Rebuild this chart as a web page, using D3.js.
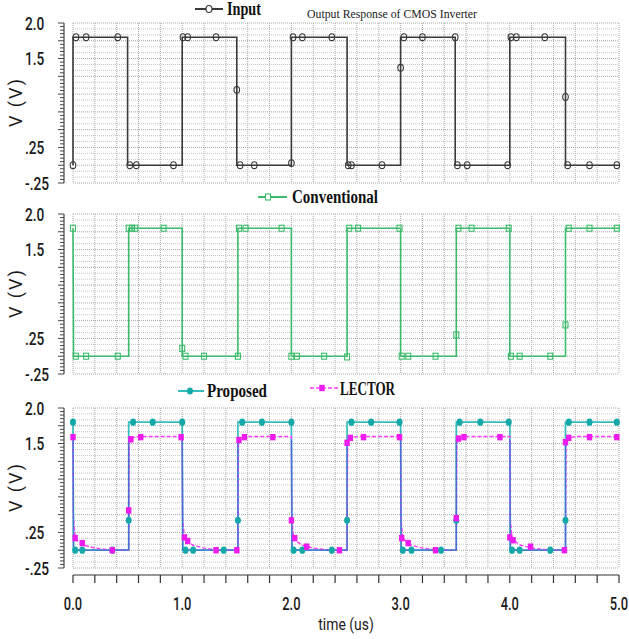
<!DOCTYPE html>
<html>
<head>
<meta charset="utf-8">
<script src="https://cdn.jsdelivr.net/npm/d3@7"></script>
<style>
  body { margin: 0; background: #fff; }
  svg { display: block; }
</style>
</head>
<body>
<div id="canvas"></div>
<script>
"use strict"

/* ---------- data (time in us, voltage in V) ---------- */
let xTickValues = [0, 1, 2, 3, 4, 5];
let xTickLabels = ["0.0", "1.0", "2.0", "3.0", "4.0", "5.0"];
let yTickValues = [2.0, 1.5, 0.25, -0.25];
let yTickLabels = ["2.0", "1.5", ".25", "-.25"];

let inputLine = [[0,0],[0,1.8],[0.5,1.8],[0.5,0],[1.0,0],[1.0,1.8],[1.5,1.8],[1.5,0],
  [2.0,0],[2.0,1.8],[2.51,1.8],[2.51,0],[3.0,0],[3.0,1.8],[3.5,1.8],[3.5,0],
  [4.0,0],[4.0,1.8],[4.51,1.8],[4.51,0],[5.0,0]];
let inputMarks = [[0,0],[0.027,1.8],[0.12,1.8],[0.41,1.8],[0.52,0],[0.58,0],[0.92,0],
  [1.007,1.8],[1.05,1.8],[1.31,1.8],[1.5,1.06],[1.53,0],[1.66,0],[2.0,0.03],
  [2.015,1.8],[2.1,1.8],[2.37,1.8],[2.52,0],[2.55,0],[2.83,0],[3.0,1.37],
  [3.03,1.8],[3.2,1.8],[3.5,1.8],[3.52,0],[3.61,0],[3.98,0],[4.01,1.8],
  [4.06,1.8],[4.32,1.8],[4.51,0.96],[4.53,0],[4.73,0],[4.98,0]];

let convLine = [[0,1.8],[0.005,0],[0.51,0],[0.51,1.8],[1.0,1.8],[1.0,0],[1.51,0],[1.51,1.8],
  [2.0,1.8],[2.0,0],[2.51,0],[2.51,1.8],[3.0,1.8],[3.0,0],[3.51,0],[3.51,1.8],
  [4.0,1.8],[4.0,0],[4.51,0],[4.51,1.8],[5.0,1.8]];
let convMarks = [[0,1.8],[0.025,0],[0.12,0],[0.41,0],[0.51,1.8],[0.54,1.8],[0.57,1.8],
  [0.83,1.8],[1.0,0.11],[1.03,0],[1.2,0],[1.51,0],[1.52,1.8],[1.58,1.8],[1.91,1.8],
  [2.0,0],[2.05,0],[2.3,0],[2.51,-0.01],[2.53,1.8],[2.61,1.8],[2.99,1.8],[3.01,0],
  [3.07,0],[3.32,0],[3.51,0.3],[3.53,1.8],[3.65,1.8],[3.99,1.8],[4.01,0],[4.09,0],
  [4.37,0],[4.51,0.44],[4.54,1.8],[4.73,1.8],[4.98,1.8]];

let propLine = [[0,1.8],[0.005,0],[0.51,0],[0.51,1.8],[1.0,1.8],[1.005,0],[1.51,0],[1.51,1.8],
  [2.0,1.8],[2.005,0],[2.51,0],[2.51,1.8],[3.0,1.8],[3.005,0],[3.51,0],[3.51,1.8],
  [4.0,1.8],[4.005,0],[4.51,0],[4.51,1.8],[5.0,1.8]];
let propMarks = [[0,1.8],[0.02,0],[0.085,0],[0.36,0],[0.51,0.42],[0.55,1.8],[0.73,1.8],
  [1.0,1.8],[1.03,0],[1.1,0],[1.38,0],[1.51,0.42],[1.55,1.8],[1.73,1.8],[2.0,1.8],
  [2.02,0],[2.1,0],[2.37,0],[2.51,0.42],[2.55,1.8],[2.73,1.8],[2.99,1.8],[3.02,0],
  [3.1,0],[3.37,0],[3.51,0.42],[3.54,1.8],[3.73,1.8],[3.99,1.8],[4.02,0],[4.09,0],
  [4.37,0],[4.51,0.42],[4.54,1.8],[4.73,1.8],[4.98,1.8]];

let lectorLine = [[0,1.6],[0.003,0.45],[0.02,0.18],[0.05,0.12],[0.1,0.07],[0.2,0.03],[0.3,0.01],[0.4,0],
  [0.51,0],[0.515,1.5],[0.54,1.58],[0.6,1.6],
  [1.0,1.6],[1.003,0.45],[1.02,0.18],[1.05,0.12],[1.1,0.07],[1.2,0.03],[1.3,0.01],[1.4,0],
  [1.51,0],[1.515,1.5],[1.54,1.58],[1.6,1.6],
  [2.0,1.6],[2.003,0.45],[2.02,0.18],[2.05,0.12],[2.1,0.07],[2.2,0.03],[2.3,0.01],[2.4,0],
  [2.51,0],[2.515,1.5],[2.54,1.58],[2.6,1.6],
  [3.0,1.6],[3.003,0.45],[3.02,0.18],[3.05,0.12],[3.1,0.07],[3.2,0.03],[3.3,0.01],[3.4,0],
  [3.51,0],[3.515,1.5],[3.54,1.58],[3.6,1.6],
  [4.0,1.6],[4.003,0.45],[4.02,0.18],[4.05,0.12],[4.1,0.07],[4.2,0.03],[4.3,0.01],[4.4,0],
  [4.51,0],[4.515,1.5],[4.54,1.58],[4.6,1.6],[5.0,1.6]];
let lectorMarks = [[0,1.59],[0.02,0.17],[0.085,0.1],[0.36,0],[0.51,0.56],[0.53,1.56],
  [0.62,1.59],[0.99,1.59],[1.02,0.18],[1.05,0.13],[1.31,0],[1.5,0],[1.52,1.55],
  [1.57,1.59],[1.83,1.59],[2.0,0.42],[2.03,0.17],[2.14,0.05],[2.44,0],[2.51,1.51],
  [2.54,1.58],[2.66,1.59],[2.99,1.59],[3.01,0.17],[3.07,0.1],[3.32,0],[3.51,0.45],
  [3.53,1.57],[3.58,1.59],[3.91,1.59],[4.0,0.18],[4.03,0.14],[4.19,0.05],[4.5,0],
  [4.51,1.52],[4.54,1.58],[4.73,1.59],[4.98,1.59]];

/* ---------- canvas ---------- */
let drawing = d3.select("#canvas")
  .append("svg")
  .attr("width", 629)
  .attr("height", 639);

let plotLeft = 73, plotRight = 619, panelH = 160;
let x = d3.scaleLinear().domain([0, 5]).range([plotLeft, plotRight]);

let cInput = "#3a3a3a", cConv = "#3dbb6c", cProp = "#33bdbd", cProp2 = "#14a8a8",
    cLect = "#ff3cff", cLect2 = "#ee1bee", cBlue = "#4a6cd6";

let line = (yScale) => d3.line().x(d => x(d[0])).y(d => yScale(d[1]));

/* one panel: grid, y axis, labels; returns its y scale */
function makePanel(top) {
  let y = d3.scaleLinear().domain([-0.25, 2.0]).range([top + panelH, top]);
  let g = drawing.append("g");

  // grid: vertical every 0.2 us, horizontal every 0.25/3 V
  g.selectAll(".vg").data(d3.range(0, 5.001, 0.2)).enter().append("line")
    .attr("x1", d => x(d)).attr("x2", d => x(d))
    .attr("y1", top).attr("y2", top + panelH)
    .attr("stroke", "#ababab").attr("stroke-dasharray", "1,1");
  g.selectAll(".hg").data(d3.range(0, 28)).enter().append("line")
    .attr("x1", plotLeft).attr("x2", plotRight)
    .attr("y1", d => y(-0.25 + d * 0.25 / 3)).attr("y2", d => y(-0.25 + d * 0.25 / 3))
    .attr("stroke", d => d % 3 === 0 ? "#a6a6a6" : "#c6c6c6")
    .attr("stroke-dasharray", "1,1");

  // y spine with dense ticks
  g.append("line").attr("x1", 64).attr("x2", 64)
    .attr("y1", top).attr("y2", top + panelH)
    .attr("stroke", "#444").attr("stroke-width", 1.2);
  g.selectAll(".yt").data(d3.range(0, 46)).enter().append("line")
    .attr("x1", d => d % 5 === 0 ? 58 : 60).attr("x2", 64)
    .attr("y1", d => y(-0.25 + d * 0.05)).attr("y2", d => y(-0.25 + d * 0.05))
    .attr("stroke", "#444").attr("stroke-width", 1);

  // tick labels
  g.selectAll(".yl").data(yTickValues).enter().append("text")
    .attr("transform", d => `translate(25,${y(d) + 6.5}) scale(0.76,1)`)
    .attr("font-family", "Roboto, 'DejaVu Sans', sans-serif")
    .attr("font-size", 18).attr("font-weight", 500).attr("fill", "#1a1a1a")
    .text((d, i) => yTickLabels[i]);

  // axis title
  g.append("text")
    .attr("transform", `translate(22,${top + panelH / 2}) rotate(-90)`)
    .attr("text-anchor", "middle")
    .attr("font-family", "Roboto, 'DejaVu Sans', sans-serif")
    .attr("font-size", 18).attr("fill", "#1a1a1a")
    .attr("textLength", 48).attr("lengthAdjust", "spacing")
    .text("V (V)");
  return y;
}

function legendText(xPos, yPos, w, label) {
  drawing.append("text")
    .attr("x", xPos).attr("y", yPos)
    .attr("font-family", "'Liberation Serif', 'Times New Roman', serif")
    .attr("font-size", 18).attr("font-weight", "bold").attr("fill", "#111")
    .attr("textLength", w).attr("lengthAdjust", "spacingAndGlyphs")
    .text(label);
}

/* ---------- panel 1: Input ---------- */
let y1 = makePanel(23);
drawing.append("path").datum(inputLine)
  .attr("d", line(y1)).attr("fill", "none")
  .attr("stroke", cInput).attr("stroke-width", 1.6);
drawing.selectAll(".im").data(inputMarks).enter().append("ellipse")
  .attr("cx", d => x(d[0])).attr("cy", d => y1(d[1]))
  .attr("rx", 2.8).attr("ry", 3.4)
  .attr("fill", "none").attr("stroke", cInput).attr("stroke-width", 1.1);

drawing.append("line").attr("x1", 195).attr("x2", 223).attr("y1", 9).attr("y2", 9)
  .attr("stroke", cInput).attr("stroke-width", 2);
drawing.append("ellipse").attr("cx", 209).attr("cy", 9).attr("rx", 3).attr("ry", 3.5)
  .attr("fill", "#fff").attr("stroke", cInput).attr("stroke-width", 1.2);
legendText(227, 15, 34, "Input");

drawing.append("text")
  .attr("x", 307).attr("y", 18)
  .attr("font-family", "'Liberation Serif', 'Times New Roman', serif")
  .attr("font-size", 12).attr("fill", "#222")
  .attr("textLength", 170).attr("lengthAdjust", "spacingAndGlyphs")
  .text("Output Response of CMOS Inverter");

/* ---------- panel 2: Conventional ---------- */
let y2 = makePanel(214);
drawing.append("path").datum(convLine)
  .attr("d", line(y2)).attr("fill", "none")
  .attr("stroke", cConv).attr("stroke-width", 1.6);
drawing.selectAll(".cm").data(convMarks).enter().append("rect")
  .attr("x", d => x(d[0]) - 2.5).attr("y", d => y2(d[1]) - 3)
  .attr("width", 5).attr("height", 6)
  .attr("fill", "none").attr("stroke", cConv).attr("stroke-width", 1.1);

drawing.append("line").attr("x1", 258).attr("x2", 287).attr("y1", 197).attr("y2", 197)
  .attr("stroke", cConv).attr("stroke-width", 2);
drawing.append("rect").attr("x", 265.5).attr("y", 194).attr("width", 5).attr("height", 6)
  .attr("fill", "#fff").attr("stroke", cConv).attr("stroke-width", 1.1);
legendText(292, 203, 86, "Conventional");

/* ---------- panel 3: Proposed and LECTOR ---------- */
let y3 = makePanel(408);
drawing.append("clipPath").attr("id", "lowClip").append("rect")
  .attr("x", plotLeft - 2).attr("width", plotRight - plotLeft + 4)
  .attr("y", y3(1.56)).attr("height", y3(-0.25) - y3(1.56));

drawing.append("path").datum(propLine)
  .attr("d", line(y3)).attr("fill", "none")
  .attr("stroke", cProp).attr("stroke-width", 1.7);
drawing.append("path").datum(lectorLine)
  .attr("d", line(y3)).attr("fill", "none")
  .attr("stroke", cLect).attr("stroke-width", 1.4)
  .attr("stroke-dasharray", "4,2");
// where the two traces overlap the plot shows a blue line
drawing.append("path").datum(propLine)
  .attr("d", line(y3)).attr("fill", "none")
  .attr("clip-path", "url(#lowClip)")
  .attr("stroke", cBlue).attr("stroke-width", 1.3);

drawing.selectAll(".pm").data(propMarks).enter().append("ellipse")
  .attr("cx", d => x(d[0])).attr("cy", d => y3(d[1]))
  .attr("rx", 3).attr("ry", 3.6).attr("fill", cProp2);
drawing.selectAll(".lm").data(lectorMarks).enter().append("rect")
  .attr("x", d => x(d[0]) - 2.7).attr("y", d => y3(d[1]) - 3.2)
  .attr("width", 5.4).attr("height", 6.4).attr("fill", cLect2);

drawing.append("line").attr("x1", 178).attr("x2", 204).attr("y1", 391).attr("y2", 391)
  .attr("stroke", cProp).attr("stroke-width", 2);
drawing.append("ellipse").attr("cx", 190).attr("cy", 391).attr("rx", 3).attr("ry", 3.6)
  .attr("fill", cProp2);
legendText(207, 397, 60, "Proposed");

drawing.append("line").attr("x1", 310).attr("x2", 338).attr("y1", 388).attr("y2", 388)
  .attr("stroke", cLect).attr("stroke-width", 1.6).attr("stroke-dasharray", "4,2");
drawing.append("rect").attr("x", 319.3).attr("y", 384.8).attr("width", 5.4).attr("height", 6.4)
  .attr("fill", cLect2);
legendText(340, 395, 55, "LECTOR");

/* ---------- x axis (bottom panel only) ---------- */
let xAxis = drawing.append("g");
xAxis.append("line").attr("x1", plotLeft).attr("x2", plotRight)
  .attr("y1", 575).attr("y2", 575).attr("stroke", "#333").attr("stroke-width", 1.2);
xAxis.selectAll(".xt").data(d3.range(0, 5.001, 0.2)).enter().append("line")
  .attr("x1", d => x(d)).attr("x2", d => x(d))
  .attr("y1", 575).attr("y2", 583).attr("stroke", "#333").attr("stroke-width", 1.2);
xAxis.selectAll(".xl").data(xTickValues).enter().append("text")
  .attr("transform", d => `translate(${x(d)},610) scale(0.68,1)`)
  .attr("text-anchor", "middle")
  .attr("font-family", "Roboto, 'DejaVu Sans', sans-serif")
  .attr("font-size", 19).attr("font-weight", 500).attr("fill", "#1a1a1a")
  .text((d, i) => xTickLabels[i]);
xAxis.append("text")
  .attr("transform", `translate(${(plotLeft + plotRight) / 2},630) scale(0.82,1)`)
  .attr("text-anchor", "middle")
  .attr("font-family", "Roboto, 'DejaVu Sans', sans-serif")
  .attr("font-size", 17).attr("fill", "#1a1a1a")
  .text("time (us)");
</script>
</body>
</html>
